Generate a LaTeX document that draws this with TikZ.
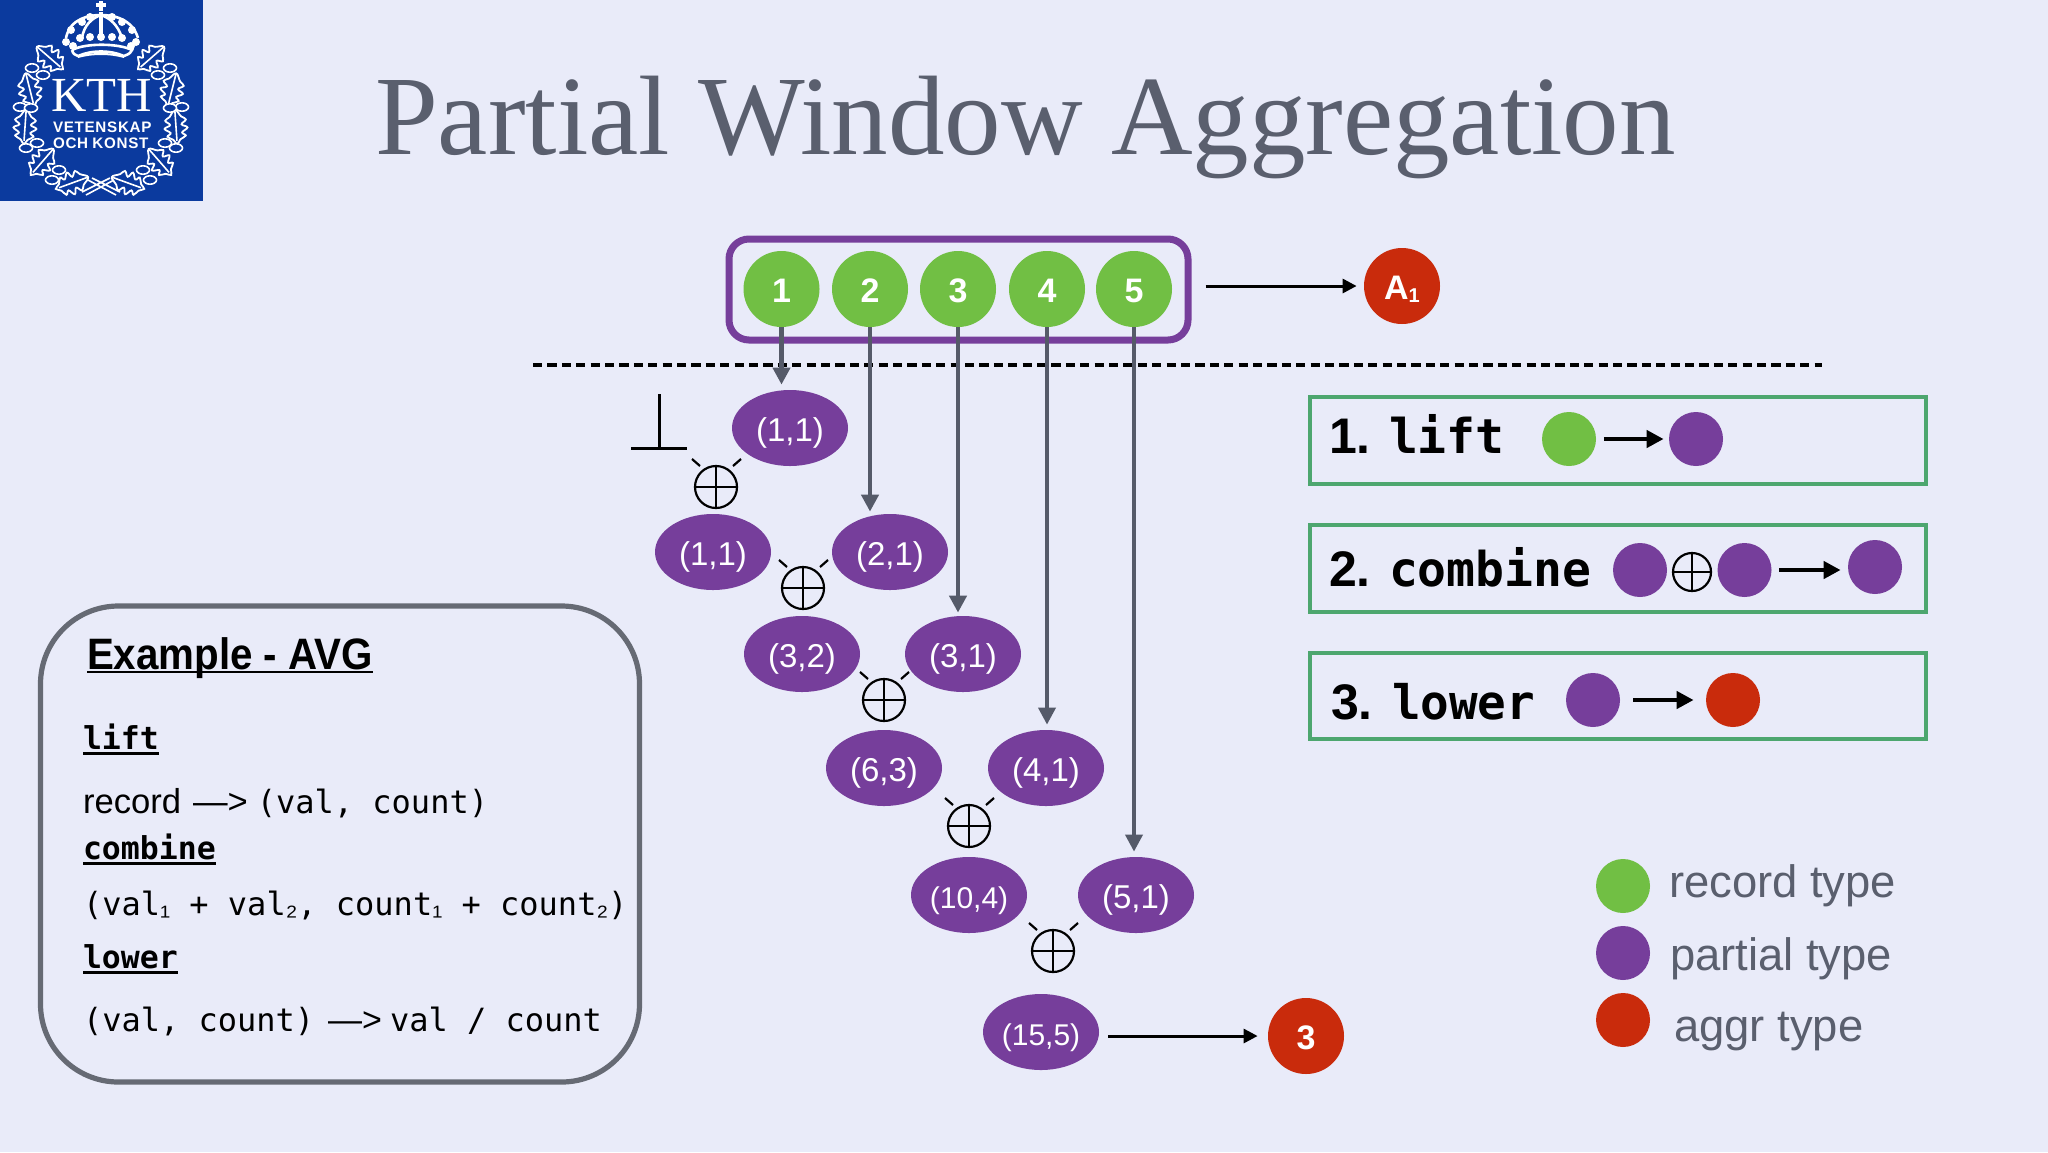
\documentclass[tikz,border=0pt]{standalone}
\usepackage{fontspec}
\usepackage{graphicx}
\usetikzlibrary{shapes.geometric,arrows.meta}
\setmainfont{Liberation Sans}
\newfontfamily\serifx{Liberation Serif}
\newfontfamily\monox{DejaVu Sans Mono}
\newcommand\fs[1]{\fontsize{#1pt}{#1pt}\selectfont}
\newcommand\ulboxa[1]{\setbox0\hbox{#1}\rlap{\rule[-3pt]{\wd0}{1.5pt}}\box0}
\newcommand\ulboxb[1]{\setbox0\hbox{#1}\rlap{\rule[-1.8pt]{\wd0}{1pt}}\box0}
\definecolor{bgc}{HTML}{E9EBF9}
\definecolor{kth}{HTML}{0B3A9E}
\definecolor{grn}{HTML}{71BF44}
\definecolor{pur}{HTML}{763E9B}
\definecolor{rdd}{HTML}{C92B0C}
\definecolor{gry}{HTML}{555A69}
\definecolor{ttl}{HTML}{5A5F6E}
\definecolor{bxg}{HTML}{4DA66F}
\definecolor{exb}{HTML}{666A74}
\tikzset{
 txt/.style={anchor=base west,inner sep=0pt,outer sep=0pt},
 rec/.style={circle,fill=grn,text=white,inner sep=0pt,minimum size=38pt,font=\fs{17}\bfseries,text height=13pt,text depth=0pt},
 agg/.style={circle,fill=rdd,text=white,inner sep=0pt,minimum size=38pt,font=\fs{17}\bfseries,text height=13pt,text depth=0pt},
 par/.style={ellipse,fill=pur,text=white,inner sep=0pt,minimum width=58pt,minimum height=38pt,font=\fs{16.5},text height=14pt,text depth=1pt},
 dotg/.style={circle,fill=grn,inner sep=0pt,minimum size=27pt},
 dotp/.style={circle,fill=pur,inner sep=0pt,minimum size=27pt},
 dotr/.style={circle,fill=rdd,inner sep=0pt,minimum size=27pt},
 opl/.style={circle,draw=black,line width=1.1pt,inner sep=0pt,minimum size=#1,
   path picture={\draw[line width=1pt] (path picture bounding box.north)--(path picture bounding box.south)
     (path picture bounding box.west)--(path picture bounding box.east);}},
 opl/.default=21pt,
 ticks/.style={line width=1.1pt,black},
 gar/.style={draw=gry,line width=2.2pt,-{Triangle[length=8.5pt,width=8.5pt]}},
 kar/.style={draw=black,line width=1.5pt,-{Triangle[length=7pt,width=7pt]}},
 lar/.style={draw=black,line width=2.2pt,-{Triangle[length=8.5pt,width=8.5pt]}},
 gbox/.style={draw=bxg,line width=2pt,minimum width=307.75pt,inner sep=0pt},
 mono/.style={font=\monox\fs{16}},
 oakleaf/.pic={
   \draw[white,fill=kth,line width=.9pt,scale=1.15] plot[smooth cycle,tension=.7] coordinates {(-15,0) (-9,-5) (-6,-9) (-2,-5) (1,-10) (5,-5) (8,-8) (11,-3) (15,0) (11,3) (8,8) (5,5) (1,10) (-2,5) (-6,9) (-9,5)};
   \draw[white,line width=.8pt,scale=1.15] (-15,0)--(12,0);
 },
 acorn/.style={draw=white,fill=kth,line width=.8pt,ellipse,inner sep=0pt,minimum width=#1,minimum height=4.2pt},
 acorn/.default=6.5pt,
}
\begin{document}
\begin{tikzpicture}[x=0.5pt,y=-0.5pt]
\useasboundingbox (0,0) rectangle (2048,1152);
\fill[bgc] (0,0) rectangle (2048,1152);
% logo
\fill[kth] (0,0) rectangle (203,201);
\node[txt,white,font=\serifx\fs{24.5}] (kthname) at (51,111) {KTH};
\node[txt,white,font=\fs{7.6}\bfseries] (kthv) at (53,132) {V\kern.35pt E\kern.35pt T\kern.35pt E\kern.35pt N\kern.35pt S\kern.35pt K\kern.35pt A\kern.35pt P};
\node[txt,white,font=\fs{7.6}\bfseries] (ktho) at (53,148) {O\kern.35pt C\kern.35pt H K\kern.35pt O\kern.35pt N\kern.35pt S\kern.35pt T};
\foreach \x/\y/\r in {50/58/-41,30/90/-76,25/127/-94,42/162/-131,72/183/-160,151/58/-139,172/90/-104,176/127/-86,160/162/-49,128/183/-20}
  \pic[rotate=\r] at (\x,\y) {oakleaf};
\foreach \x/\y in {32/68,43/75,20/107,31/108,37/143,26/148,59/170,52/180,170/68,158/75,182/107,170/108,165/143,176/148,143/170,150/180}
  \node[acorn] at (\x,\y) {};
\draw[white,line width=.8pt] (88,180)--(116,195) (114,180)--(86,195) (92,178)--(120,192) (110,178)--(82,192);
% crown
\draw[white,line width=1.3pt] (66,38) .. controls (70,18) and (90,15) .. (101,15) .. controls (112,15) and (132,18) .. (138,38);
\draw[white,line width=1.3pt] (82,38) .. controls (84,25) and (92,18) .. (101,15) .. controls (110,18) and (118,25) .. (122,38);
\draw[white,line width=2.2pt] (101,12)--(101,36);
\draw[white,line width=2.4pt] (101,1)--(101,11) (96,5)--(106,5);
\foreach \x/\y in {66/42,80/38,90/37,101/37,112/37,122/38,136/42,73/46,131/46,71/30,132/30,82/22,122/22,90/17,112/17}
  \fill[white] (\x,\y) circle (2pt);
\draw[white,line width=1.3pt] (72,50) .. controls (85,43) and (118,43) .. (132,50) .. controls (130,54) and (127,55) .. (124,56) .. controls (110,50) and (92,50) .. (78,56) .. controls (75,55) and (73,54) .. (72,50);
\draw[white,line width=1pt] (78,57) .. controls (92,53) and (110,53) .. (124,57);
% title
\node[txt,ttl,font=\serifx\fs{56.5}] (title) at (375,154) {Partial Window Aggregation};
% records
\node[draw=pur,line width=3.5pt,rounded corners=10pt,minimum width=229.5pt,minimum height=50.5pt,inner sep=0pt] (box) at (958.5,289.5) {};
\node[rec] (c1) at (781.5,289) {1};
\node[rec] (c2) at (870,289) {2};
\node[rec] (c3) at (958,289) {3};
\node[rec] (c4) at (1047,289) {4};
\node[rec] (c5) at (1134,289) {5};
\node[agg] (A1) at (1402,286) {A\fs{10}\raisebox{-1.5pt}{1}};
\draw[kar,shorten <=7pt,shorten >=3.5pt] (box.east |- A1) -- (A1);
% dashed
\coordinate (dl) at (533,364.5);
\coordinate (dr) at (1822,364.5);
\draw[black,line width=2pt,dash pattern=on 4.6pt off 2.6pt] (dl) -- (dr);
% partials
\node[par] (e1) at (790,428) {(1,1)};
\node[par] (e2) at (713,552) {(1,1)};
\node[par] (e3) at (890,552) {(2,1)};
\node[par] (e4) at (802,654) {(3,2)};
\node[par] (e5) at (963,654) {(3,1)};
\node[par] (e6) at (884,768) {(6,3)};
\node[par] (e7) at (1046,768) {(4,1)};
\node[par,font=\fs{15}] (e8) at (969,895) {(10,4)};
\node[par] (e9) at (1136,895) {(5,1)};
\node[par,font=\fs{15}] (e10) at (1041,1032) {(15,5)};
\node[agg] (res) at (1306,1036) {3};
% arrows
\draw[gar,shorten >=2.5pt] (c1.south) -- (c1.south |- e1.north);
\draw[gar,shorten >=1pt] (c2.south) -- (c2.south |- e3.north);
\draw[gar,shorten >=1.5pt] (c3.south) -- (c3.south |- e5.north);
\draw[gar,line width=1.9pt,shorten >=2.5pt] (c4.south) -- (c4.south |- e7.north);
\draw[gar,line width=1.9pt,shorten >=2.5pt] (c5.south) -- (c5.south |- e9.north);
\draw[kar,shorten <=4.5pt,shorten >=5pt] (e10.east |- res) -- (res);
% bottom symbol
\draw[black,line width=1.5pt] (631,448)--(687,448) (659,394)--(659,448);
% oplus
\foreach \n/\x/\y in {o1/716/487,o2/803/588,o3/884/700,o4/969/826,o5/1053/951}{
  \node[opl] (\n) at (\x,\y) {};
  \draw[ticks] ({\x-24},{\y-28}) -- ({\x-16},{\y-21}) ({\x+25},{\y-28}) -- ({\x+17},{\y-21});
}
% example box
\node[draw=exb,line width=2.6pt,rounded corners=39pt,minimum width=299.5pt,minimum height=238pt,inner sep=0pt] (ex) at (340,844) {};
\node[txt,font=\fs{22}\bfseries] (ext) at (87,669) {\ulboxb{\scalebox{0.916}[1]{Example - AVG}}};
\node[txt,font=\monox\fs{15.75}\bfseries] (l1) at (83,749) {\ulboxa{lift}};
\node[txt] (l2) at (83,813) {\fs{17.3}record\hskip6pt —>\hskip4.5pt{\monox\fs{16}(val, count)}};
\node[txt,font=\monox\fs{15.75}\bfseries] (l3) at (83,859) {\ulboxa{combine}};
\node[txt,mono] (l4) at (83,915) {(val{\rmfamily\fs{15}₁} + val{\rmfamily\fs{15}₂}, count{\rmfamily\fs{15}₁} + count{\rmfamily\fs{15}₂})};
\node[txt,font=\monox\fs{15.75}\bfseries] (l5) at (83,968) {\ulboxa{lower}};
\node[txt,mono] (l6) at (83,1031) {(val, count){\rmfamily\fs{17}\hskip7pt —>\hskip4pt}val / count};
% method boxes
\node[gbox,minimum height=43.5pt] (b1) at (1617.75,440.5) {};
\node[gbox,minimum height=43.5pt] (b2) at (1617.75,568.5) {};
\node[gbox,minimum height=43pt] (b3) at (1617.75,696) {};
\node[txt,font=\fs{25}\bfseries] (n1) at (1329,453) {1.};
\node[txt,font=\monox\fs{24}\bfseries] (t1) at (1389,453) {lift};
\node[dotg] (g1) at (1569,439) {};
\node[dotp] (p1) at (1696,439) {};
\draw[lar,shorten <=3.75pt,shorten >=2.5pt] (g1) -- (p1);
\node[txt,font=\fs{25}\bfseries] (n2) at (1329,586) {2.};
\node[txt,font=\monox\fs{24}\bfseries] (t2) at (1389,586) {combine};
\node[dotp] (p2) at (1640,570) {};
\node[opl=19pt] (o6) at (1692,572) {};
\node[dotp] (p3) at (1744.5,570) {};
\node[dotp] (p4) at (1875,567) {};
\draw[lar,shorten <=3.75pt,shorten >=3.5pt] (p3) -- (p3 -| p4.west);
\node[txt,font=\fs{25}\bfseries] (n3) at (1331,719) {3.};
\node[txt,font=\monox\fs{23.8}\bfseries] (t3) at (1392,719) {lower};
\node[dotp] (p5) at (1593,700) {};
\node[dotr] (r1) at (1733,700) {};
\draw[lar,shorten <=6.5pt,shorten >=6pt] (p5) -- (r1);
% legend
\node[dotg] (lg) at (1623,886) {};
\node[dotp] (lp) at (1623,953) {};
\node[dotr] (lr) at (1623,1020) {};
\node[txt,ttl,font=\fs{22.7}] (lgt) at (1669,897) {record type};
\node[txt,ttl,font=\fs{22.7}] (lpt) at (1670,970) {partial type};
\node[txt,ttl,font=\fs{22.7}] (lrt) at (1674,1041) {aggr type};
\end{tikzpicture}
\end{document}
